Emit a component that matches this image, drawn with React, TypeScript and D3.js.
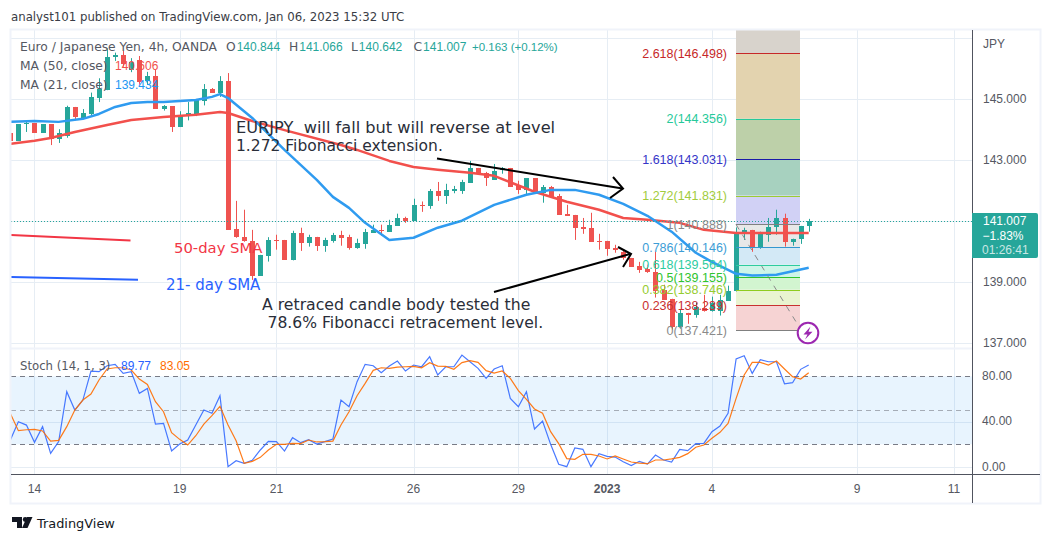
import React from "react";
import * as d3 from "d3";

const opens = [143.90,143.63,144.17,144.20,143.89,144.18,143.68,143.79,144.74,144.39,144.51,145.03,145.29,146.37,146.45,145.95,146.28,145.59,145.75,144.68,144.77,144.08,144.44,144.50,144.94,145.33,145.21,145.59,140.75,140.48,140.36,139.20,139.86,140.39,140.38,139.73,140.61,140.29,140.48,140.19,140.35,140.55,140.48,140.12,140.25,140.61,140.71,140.65,140.84,141.10,141.01,141.54,141.50,141.99,141.82,141.98,141.99,142.25,142.74,142.58,142.35,142.68,142.74,142.18,142.02,142.41,141.92,142.12,141.82,141.24,141.20,140.81,140.78,140.35,140.35,140.12,139.99,139.79,139.53,139.43,139.34,138.75,138.45,137.54,137.99,137.93,138.16,138.06,138.06,138.39,138.69,140.61,140.71,140.16,140.55,140.81,141.10,140.32,140.42,140.84];
const closes = [143.63,144.18,144.21,143.89,144.18,143.68,143.89,144.75,144.41,144.54,145.07,145.33,146.38,146.43,146.14,146.21,145.57,145.75,144.68,144.76,144.08,144.47,144.53,144.97,145.33,145.21,145.59,140.71,140.46,140.33,139.20,139.89,140.38,140.37,139.73,140.61,140.29,140.48,140.19,140.38,140.55,140.45,140.12,140.29,140.65,140.72,140.67,140.88,141.10,141.01,141.53,141.52,141.99,141.82,142.02,142.04,142.28,142.74,142.55,142.41,142.64,142.74,142.12,142.02,142.41,141.89,142.12,141.79,141.20,141.17,140.78,140.75,140.32,140.32,140.09,140.06,139.79,139.50,139.40,139.34,138.72,138.42,137.54,137.99,137.93,138.19,138.06,138.32,138.42,138.72,140.62,140.71,140.16,140.58,140.81,141.10,140.32,140.42,140.84,141.01];
const highs = [143.90,144.18,144.31,144.20,144.18,144.18,144.01,144.78,144.74,144.67,145.21,145.68,146.66,146.52,146.58,146.34,146.41,145.89,145.95,144.80,144.77,144.60,144.90,144.97,145.49,145.36,145.75,145.85,141.66,141.37,140.71,139.89,140.47,140.55,140.38,140.68,140.78,140.55,140.48,140.45,140.61,140.68,140.55,140.42,140.74,140.88,140.88,141.04,141.24,141.14,141.73,141.64,142.05,142.28,142.22,142.15,142.35,142.97,142.74,142.61,142.87,142.77,142.74,142.32,142.41,142.41,142.18,142.15,141.89,141.53,141.20,141.10,141.27,140.58,140.35,140.22,140.06,139.79,139.66,139.57,139.99,138.91,138.45,138.09,137.99,138.32,138.58,138.52,138.58,138.88,140.79,140.78,140.71,140.65,141.10,141.37,141.24,140.42,140.84,141.07];
const lows = [143.63,143.63,143.92,143.89,143.89,143.49,143.56,143.73,144.31,144.36,144.43,144.90,145.29,146.25,146.06,145.88,145.46,145.46,144.68,144.62,143.92,144.08,144.30,144.44,144.79,145.20,145.07,140.71,140.45,140.32,139.07,139.20,139.67,140.06,139.73,139.71,140.02,140.16,140.02,139.99,140.29,140.19,140.06,140.09,140.09,140.61,140.52,140.65,140.84,140.94,141.01,141.30,141.40,141.66,141.56,141.91,141.89,142.25,142.51,142.15,142.35,142.55,142.12,141.89,141.86,141.89,141.60,141.79,141.20,141.17,140.38,140.58,140.32,140.06,139.86,139.96,139.73,139.50,139.30,139.30,138.49,138.42,137.44,137.47,137.63,137.83,138.03,138.03,137.90,138.39,138.69,140.38,139.99,140.09,140.32,140.55,140.16,140.19,140.25,140.65];

const ma50Index = [0,3,5,8,12,15,19,23,26,27,30,34,41,43,47,50,53,57,60,65,69,73,76,79,83,86,90,99];
const ma50Values = [143.53,143.63,143.72,143.92,144.15,144.31,144.41,144.48,144.57,144.54,144.28,143.98,143.49,143.33,142.97,142.77,142.68,142.58,142.48,141.96,141.63,141.37,141.10,141.04,140.94,140.71,140.61,140.61];
const ma21Index = [0,3,6,9,11,13,15,17,19,23,25,26,27,30,34,38,40,42,44,47,50,53,56,60,64,67,70,73,76,79,82,85,87,89,90,92,95,99];
const ma21Values = [144.25,144.28,144.25,144.35,144.51,144.74,144.87,144.90,144.90,144.97,145.07,145.16,145.03,144.38,143.33,142.35,141.79,141.43,140.94,140.38,140.45,140.78,141.01,141.53,141.86,142.02,142.02,141.86,141.56,141.17,140.65,139.96,139.66,139.40,139.27,139.21,139.24,139.47];

const stochK = [23.8,40,37,21.8,35.6,12,22.4,66.5,50.3,59.1,84.7,84.1,89.4,90.6,82.6,84.1,65,69.4,37.9,38.5,14.1,20.3,23.8,37.1,50.3,47.4,62.9,0.3,5.6,3.2,5.9,15,22.6,22.4,14.1,25.9,21.5,24.1,20.3,22.4,24.7,59.1,53.2,75.3,90.6,89.4,83.2,89.1,93.5,84.7,90,88.5,97.4,81.2,88.5,88.5,98.8,92.9,87.1,78.2,86.5,89.4,60.6,53.2,66.5,33.5,40.6,20,2.4,0.3,16.8,15.6,0.3,11.8,9.4,8.8,4.7,1.2,5,2.6,10.6,6.2,4.4,15.6,14.4,20.6,20.9,31.2,36.2,47.4,95.3,98.2,82.6,94.7,92.9,92.9,73.5,74.4,86.2,90];
const stochD = [47.4,32.1,32.9,33.2,31.8,22.9,23.5,35.6,50.3,59.1,64.4,76.8,86.5,87.6,87.6,85.6,77.6,72.9,57.6,48.8,30.3,24.4,19.4,27.6,37.9,45.3,53.5,37.1,23.2,3.2,5,8.5,15,20,20,20.9,20.6,23.8,22.1,22.4,22.9,37.1,48.8,62.9,73.8,85.3,87.6,87.1,88.2,88.5,88.8,87.6,92.1,89.1,88.8,86.2,92.1,93.8,92.4,85,82.9,84.7,78.2,67.4,59.7,51.2,47.4,31.2,20.6,7.4,6.8,11.2,11.2,9.7,7.1,9.7,7.1,4.4,3.5,2.9,6.2,6.2,7.1,8.5,11.8,17.4,19.4,25.3,30.6,38.5,60.6,81.2,92.4,92.4,90,93.5,86.5,79.7,77.6,83.2];

const fibRatios = ["2.618","2","1.618","1.272","1","0.786","0.618","0.5","0.382","0.236","0"];
const fibPrices = [146.498,144.356,143.031,141.831,140.888,140.146,139.564,139.155,138.746,138.239,137.421];
const fibLineColors = ["#c62828","#26c99a","#1a1aa8","#9ccc32","#808080","#3497cf","#2ecc9f","#2fc42f","#8fcc1e","#c93030","#808080"];
const fibTextColors = ["#c62828","#26c99a","#3535c8","#a2cc3c","#8a8a8a","#3c9dd6","#2ecc9f","#2fc42f","#95cc30","#c93030","#8a8a8a"];
const fibFills = ["#e3d3af","#bdd0a9","#a7d1bf","#d1d1f5","#e8e8e8","#d3e9f6","#cdf5e8","#d2f5d0","#e9f4d0","#f6d3d3"];

const priceTicks = [147,145,143,141,139,137];
const priceTickLabels = ["145.000","143.000","139.000","137.000"];
const stochGrid = [0,40];
const stochTickValues = [80,40,0];
const stochTickLabels = ["80.00","40.00","0.00"];
const timeTickIndex = [3,21,33,50,63,74,87,105,117];
const timeTickLabels = ["14","19","21","26","29","2023","4","9","11"];

const legendOHLC = [["O","140.844",226],["H","141.066",289],["L","140.642",351],["C","141.007",413.5]] as const;

const UP = "#26a69a", DOWN = "#ef5350", GRID = "#e6edf4", FRAME = "#f0f3fa", AXIS = "#50535e", TXT = "#555862";
const UI = "'DejaVu Sans', sans-serif";
const AX = "'Liberation Sans', Arial, sans-serif";

const L = 11, R = 972;
const x = d3.scaleLinear().domain([0, 99]).range([10.3, 808.7]);
const y = d3.scaleLinear().domain([137, 145]).range([343, 99]);
const sy = d3.scaleLinear().domain([0, 100]).range([467, 353.7]);
const px = (v: number) => Math.round(v) + 0.5;

const lineOf = (idx: number[], vals: number[]) =>
  d3.line<number>().x((_, i) => x(idx[i])).y((v) => y(v))(vals) as string;
const stochLine = (vals: number[]) =>
  d3.line<number>().x((_, i) => x(i)).y((v) => sy(v))(vals) as string;

export default function App() {
  const fibL = 736, fibR = 800;
  const ys = fibPrices.map((p) => y(p));
  return (
    <svg width={1052} height={542} style={{ position: "absolute", left: 0, top: 0, background: "#fff" }}>
      <defs>
        <clipPath id="plot"><rect x={L} y={30} width={R - L} height={318} /></clipPath>
        <clipPath id="stoch"><rect x={L} y={349} width={R - L} height={125} /></clipPath>
      </defs>

      <text x={11} y={20.5} fontFamily={UI} fontSize={11.75} fill="#3a3d46">analyst101 published on TradingView.com, Jan 06, 2023 15:32 UTC</text>

      {/* grid */}
      {timeTickIndex.map((t) => (
        <g key={t}>
          <line x1={px(x(t))} x2={px(x(t))} y1={30} y2={348} stroke={GRID} />
          <line x1={px(x(t))} x2={px(x(t))} y1={349} y2={474} stroke={GRID} />
        </g>
      ))}
      {priceTicks.map((p) => (
        <line key={p} x1={L} x2={R} y1={px(y(p))} y2={px(y(p))} stroke={GRID} />
      ))}
      {stochGrid.map((s) => (
        <line key={s} x1={L} x2={R} y1={px(sy(s))} y2={px(sy(s))} stroke={GRID} />
      ))}

      {/* fibonacci fills */}
      <rect x={fibL} y={30} width={fibR - fibL} height={ys[0] - 30} fill="#d8d3cc" />
      {fibFills.map((c, i) => (
        <rect key={c} x={fibL} y={ys[i]} width={fibR - fibL} height={ys[i + 1] - ys[i]} fill={c} />
      ))}

      {/* candles */}
      <g clipPath="url(#plot)">
        {opens.map((o, i) => {
          const c = closes[i];
          const col = c >= o ? UP : DOWN;
          const cx = Math.round(x(i));
          const top = Math.round(y(Math.max(o, c)));
          const bot = Math.round(y(Math.min(o, c)));
          return (
            <g key={i}>
              <rect x={cx} y={y(highs[i])} width={1} height={y(lows[i]) - y(highs[i])} fill={col} />
              <rect x={cx - 2} y={top} width={5} height={Math.max(1, bot - top)} fill={col} />
            </g>
          );
        })}
        <path d={lineOf(ma50Index, ma50Values)} fill="none" stroke="#f2504c" strokeWidth={2.5} strokeLinejoin="round" />
        <path d={lineOf(ma21Index, ma21Values)} fill="none" stroke="#2f9bf0" strokeWidth={2.5} strokeLinejoin="round" />
      </g>

      {/* current price */}
      <line x1={L} x2={R} y1={221.5} y2={221.5} stroke={UP} strokeDasharray="1 2" />

      {/* fibonacci lines & labels */}
      <line x1={fibL} x2={798} y1={ys[4]} y2={325} stroke="#8a8a8a" strokeDasharray="6 6" />
      {fibPrices.map((p, i) => (
        <g key={p}>
          <line x1={fibL} x2={fibR} y1={px(ys[i])} y2={px(ys[i])} stroke={fibLineColors[i]} strokeWidth={1} />
          <text x={727} y={ys[i]} dy={4.5} textAnchor="end" fontFamily={AX} fontSize={12.5} fill={fibTextColors[i]}>
            {`${fibRatios[i]}(${p.toFixed(3)})`}
          </text>
        </g>
      ))}

      {/* lightning */}
      <circle cx={808} cy={333} r={10.3} fill="#fff" stroke="#9c27b0" strokeWidth={2} />
      <path d="M810.5 326.5 L803.5 334.5 L807.5 334.5 L805 339.5 L812.5 331.8 L808.5 331.8 Z" fill="#9c27b0" />

      {/* hand annotations */}
      <g fill="none" stroke="#000" strokeWidth={2}>
        <path d="M437 158.5 L622.5 188.5" />
        <path d="M613 177 L623 188.5 L610 198" />
        <path d="M494 292 L630 254" />
        <path d="M618 247 L631 254 L623 267" />
      </g>
      <line x1={11} x2={130.5} y1={235} y2={240.5} stroke="#f23645" strokeWidth={2} />
      <line x1={11} x2={138} y1={277} y2={279.7} stroke="#2962ff" strokeWidth={2} />
      <g fontFamily={UI} fill="#2a2e39">
        <text x={236} y={132.5} fontSize={16.2} xmlSpace="preserve">EURJPY  will fall but will reverse at level</text>
        <text x={236} y={150.5} fontSize={15.5}>1.272 Fibonacci extension.</text>
        <text x={262} y={310} fontSize={15.7}>A retraced candle body tested the</text>
        <text x={267.5} y={327.5} fontSize={15.6}>78.6% Fibonacci retracement level.</text>
      </g>
      <text x={174} y={252.5} fontFamily={UI} fontSize={14.8} fill="#f23645">50-day SMA</text>
      <text x={166} y={290} fontFamily={UI} fontSize={15} fill="#2962ff">21- day SMA</text>

      {/* legend */}
      <g fontFamily={UI} fontSize={12.3} fill={TXT}>
        <text x={20} y={51}>Euro / Japanese Yen, 4h, OANDA</text>
        {legendOHLC.map(([k, v, lx]) => (
          <text key={k} x={lx} y={51}>{k}<tspan dx={1} fill={UP} fontFamily={AX} fontSize={12}>{v}</tspan></text>
        ))}
        <text x={472} y={51} fill={UP} fontFamily={AX} fontSize={11.5}>+0.163 (+0.12%)</text>
        <text x={20} y={70}>MA (50, close)</text>
        <text x={115} y={70} fill="#f2504c" fontFamily={AX} fontSize={12}>140.606</text>
        <text x={20} y={89}>MA (21, close)</text>
        <text x={115} y={89} fill="#2196f3" fontFamily={AX} fontSize={12}>139.434</text>
      </g>

      {/* stochastic pane */}
      <rect x={L} y={sy(80)} width={R - L} height={sy(20) - sy(80)} fill="#2196f3" fillOpacity={0.1} />
      <line x1={L} x2={R} y1={px(sy(80))} y2={px(sy(80))} stroke="#787b86" strokeDasharray="5 4" />
      <line x1={L} x2={R} y1={px(sy(50))} y2={px(sy(50))} stroke="#787b86" strokeOpacity={0.6} strokeDasharray="5 4" />
      <line x1={L} x2={R} y1={px(sy(20))} y2={px(sy(20))} stroke="#787b86" strokeDasharray="5 4" />
      <g clipPath="url(#stoch)" fill="none" strokeWidth={1.2}>
        <path d={stochLine(stochK)} stroke="#2962ff" strokeOpacity={0.85} />
        <path d={stochLine(stochD)} stroke="#ff6d00" strokeOpacity={0.9} />
      </g>
      <g>
        <text x={20} y={370} fill={TXT} fontFamily={UI} fontSize={11.7}>Stoch (14, 1, 3)</text>
        <text x={121} y={370} fill="#2962ff" fontFamily={AX} fontSize={12}>89.77</text>
        <text x={160} y={370} fill="#ff6d00" fontFamily={AX} fontSize={12}>83.05</text>
      </g>

      {/* frame & axes */}
      <rect x={10.5} y={29.5} width={1030} height={474} fill="none" stroke={FRAME} strokeWidth={2} />
      <line x1={L} x2={R} y1={348.5} y2={348.5} stroke={FRAME} strokeWidth={2} />
      <line x1={972.5} x2={972.5} y1={30} y2={503} stroke={AXIS} />
      <line x1={L} x2={1040} y1={474.5} y2={474.5} stroke={AXIS} />

      {/* axis labels */}
      <g fontFamily={AX} fontSize={12} fill={TXT}>
        <text x={983} y={47.5}>JPY</text>
        {priceTickLabels.map((t) => (
          <text key={t} x={983} y={y(parseFloat(t)) + 4}>{t}</text>
        ))}
        {stochTickLabels.map((t, i) => (
          <text key={t} x={982} y={sy(stochTickValues[i]) + 3.5}>{t}</text>
        ))}
        {timeTickLabels.map((t, i) => (
          <text key={t} x={x(timeTickIndex[i])} y={493} textAnchor="middle" fontWeight={t === "2023" ? 700 : 400}>{t}</text>
        ))}
      </g>

      {/* price tag */}
      <path d="M972 213 H1036 Q1038 213 1038 215 V256 Q1038 258 1036 258 H972 Z" fill={UP} />
      <g fontFamily={AX} fontSize={12} fill="#fff">
        <text x={983} y={225}>141.007</text>
        <text x={982.5} y={240}>−1.83%</text>
        <text x={982} y={254} fillOpacity={0.75}>01:26:41</text>
      </g>

      {/* logo */}
      <g fill="#131722">
        <path d="M12 517 H22 V528 H17 V522 H12 Z" />
        <circle cx={25.2} cy={519.5} r={2.4} />
        <path d="M32.5 517 L27.5 528 H22 L27 517 Z" />
      </g>
      <text x={37} y={527.5} fontFamily={UI} fontSize={12.9} fill="#131722">TradingView</text>
    </svg>
  );
}
